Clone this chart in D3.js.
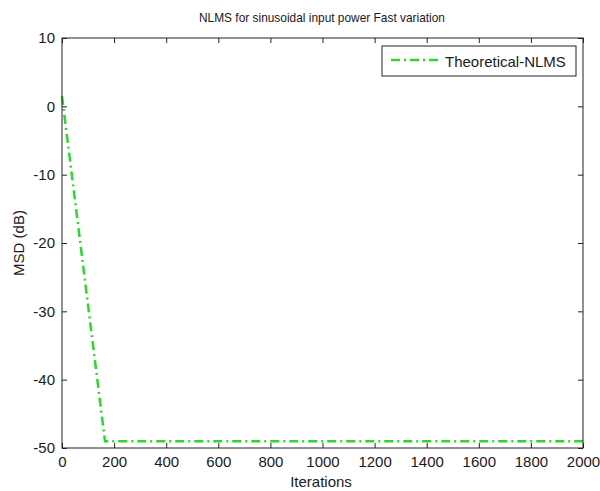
<!DOCTYPE html>
<html>
<head>
<meta charset="utf-8">
<script src="https://cdn.jsdelivr.net/npm/d3@7"></script>
<style>
  body { margin: 0; background: #fff; }
  text { font-family: "Liberation Sans", Arial, sans-serif; fill: #1a1a1a; }
</style>
</head>
<body>
<div id="vis"></div>
<script>
// data
var iterations = [0, 165, 2000];
var msd = [1.5, -49, -49];
var xTicks = [0, 200, 400, 600, 800, 1000, 1200, 1400, 1600, 1800, 2000];
var yTicks = [10, 0, -10, -20, -30, -40, -50];
var seriesName = 'Theoretical-NLMS';

var svgWidth = 600, svgHeight = 491;
var svg = d3.select('#vis').append('svg')
  .attr('width', svgWidth)
  .attr('height', svgHeight);

var margin = {top: 38, right: 17, bottom: 43, left: 62},
    w = svgWidth - margin.left - margin.right,
    h = svgHeight - margin.top - margin.bottom;

var g = svg.append('g')
  .attr('transform', 'translate(' + margin.left + ',' + margin.top + ')');

var xScale = d3.scaleLinear().domain([0, 2000]).range([0, w]);
var yScale = d3.scaleLinear().domain([-50, 10]).range([h, 0]);

// plain hyphen for negatives, like matlab
var fmt = function (d) { return String(d); };

// plot area
g.append('rect')
  .attr('width', w).attr('height', h)
  .attr('fill', 'white');

// the line
var data = iterations.map(function (v, i) { return {x: v, y: msd[i]}; });
var makeLine = d3.line()
  .x(function (d) { return xScale(d.x); })
  .y(function (d) { return yScale(d.y); });

g.append('path')
  .datum(data)
  .attr('d', makeLine)
  .attr('fill', 'none')
  .attr('stroke', '#2ad92a')
  .attr('stroke-width', 2.5)
  .attr('stroke-dasharray', '9,4,2,4');

// axes, matlab style: inward ticks on all four sides
function styleAxis(sel) {
  sel.select('.domain').remove();
  sel.selectAll('line').attr('stroke', '#222');
  sel.selectAll('text').style('font-size', '15px').attr('fill', '#1a1a1a');
}

g.append('g')
  .attr('transform', 'translate(0,' + h + ')')
  .call(d3.axisBottom(xScale).tickValues(xTicks).tickSize(-5).tickPadding(8).tickFormat(fmt))
  .call(styleAxis);

g.append('g')
  .call(d3.axisTop(xScale).tickValues(xTicks).tickSize(-5).tickFormat(''))
  .call(styleAxis);

g.append('g')
  .call(d3.axisLeft(yScale).tickValues(yTicks).tickSize(-5).tickPadding(7).tickFormat(fmt))
  .call(styleAxis);

g.append('g')
  .attr('transform', 'translate(' + w + ',0)')
  .call(d3.axisRight(yScale).tickValues(yTicks).tickSize(-5).tickFormat(''))
  .call(styleAxis);

// box
g.append('rect')
  .attr('width', w).attr('height', h)
  .attr('fill', 'none')
  .attr('stroke', '#222')
  .attr('stroke-width', 1);

// legend
var leg = g.append('g').attr('transform', 'translate(' + (w - 201) + ',8)');
leg.append('rect')
  .attr('width', 194).attr('height', 30)
  .attr('fill', 'white')
  .attr('stroke', '#222');
leg.append('line')
  .attr('x1', 9).attr('x2', 60)
  .attr('y1', 14).attr('y2', 14)
  .attr('stroke', '#2ad92a')
  .attr('stroke-width', 2.5)
  .attr('stroke-dasharray', '9,4,2,4');
leg.append('text')
  .attr('x', 63).attr('y', 20.5)
  .style('font-size', '15px')
  .text(seriesName);

// title and labels (title font is narrow in the original, squeeze it)
svg.append('text')
  .attr('x', 322).attr('y', 22)
  .attr('text-anchor', 'middle')
  .attr('textLength', 246)
  .attr('lengthAdjust', 'spacingAndGlyphs')
  .style('font-size', '13.5px')
  .text('NLMS for sinusoidal input power Fast variation');

svg.append('text')
  .attr('x', 321).attr('y', 487)
  .attr('text-anchor', 'middle')
  .style('font-size', '15px')
  .text('Iterations');

svg.append('text')
  .attr('transform', 'translate(24,' + (margin.top + h / 2) + ') rotate(-90)')
  .attr('text-anchor', 'middle')
  .style('font-size', '15px')
  .text('MSD (dB)');
</script>
</body>
</html>
